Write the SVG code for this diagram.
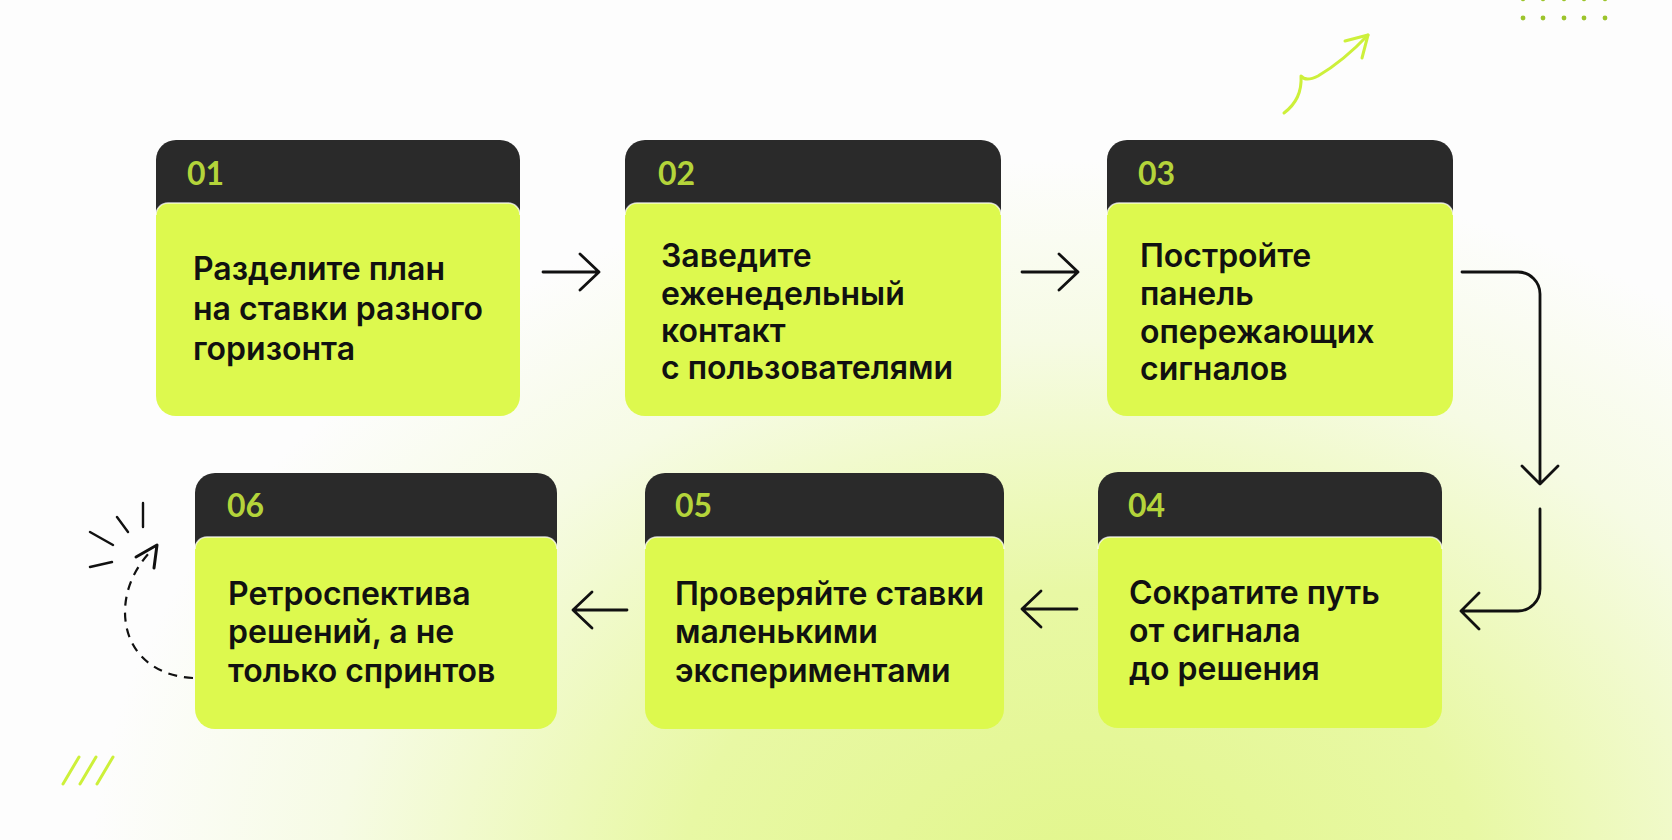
<svg xmlns="http://www.w3.org/2000/svg" width="1672" height="840" viewBox="0 0 1672 840">
<style>
.hdr{fill:#2a2a2a}
.body{fill:#ddf94e}
.hl{fill:none;stroke:#ffffff;stroke-opacity:0.75;stroke-width:1.6}
.num{font-family:"Lato","Inter",sans-serif;font-weight:700;font-size:32px;fill:#b4d43a}
.txt{font-family:"Inter","Liberation Sans",sans-serif;font-weight:600;font-size:32px;fill:#111111}
.conn{fill:none;stroke:#111111;stroke-width:2.8;stroke-linecap:round;stroke-linejoin:round}
.lime{fill:none;stroke:#cdf03a;stroke-width:3;stroke-linecap:round;stroke-linejoin:round}
.dk{fill:none;stroke:#111111;stroke-width:2.4;stroke-linecap:round}
</style>
<defs>
<radialGradient id="bg" gradientUnits="userSpaceOnUse" cx="1080" cy="880" r="900" gradientTransform="translate(1080 880) scale(1.1 0.8) translate(-1080 -880)">
<stop offset="0" stop-color="#e2f68c"/>
<stop offset="0.4" stop-color="#e8f8a4"/>
<stop offset="0.75" stop-color="#f6fbe4"/>
<stop offset="1" stop-color="#fdfdfd"/>
</radialGradient>
</defs>
<rect x="0" y="0" width="1672" height="840" fill="#fdfdfd"/>
<rect x="0" y="0" width="1672" height="840" fill="url(#bg)"/>

<g id="decor">
<g fill="#9cc42c">
<circle cx="1523" cy="-1" r="2.2"/><circle cx="1543" cy="-1" r="2.2"/><circle cx="1564" cy="-1" r="2.2"/><circle cx="1584" cy="-1" r="2.2"/><circle cx="1605" cy="-1" r="2.2"/>
<circle cx="1523" cy="18" r="2.4"/><circle cx="1543" cy="18" r="2.4"/><circle cx="1564" cy="18" r="2.4"/><circle cx="1584" cy="18" r="2.4"/><circle cx="1605" cy="18" r="2.4"/>
</g>
<path class="lime" d="M1284,113 C1296,104 1302,92 1301,76 C1304,80 1310,80 1318,76 C1335,66 1352,52 1368,35"/>
<path class="lime" d="M1345,41 L1368,35 L1362,58"/>
<path class="lime" d="M63,784 L79,757 M80,784 L96,757 M97,784 L113,757"/>
<path class="dk" d="M143,503 V527 M117,517 L128,532 M90,532 L113,545 M90,567 L112,562"/>
</g>

<g id="connectors">
<path class="conn" d="M543,272 H599 M580,254 L599,272 L580,290"/>
<path class="conn" d="M1022,272 H1078 M1059,254 L1078,272 L1059,290"/>
<path class="conn" d="M1462,272 H1518 A22,22 0 0 1 1540,294 V483 M1522,466 L1540,484 L1558,466"/>
<path class="conn" d="M1540,509 V589 A22,22 0 0 1 1518,611 H1461 M1479,593 L1461,611 L1479,629"/>
<path class="conn" d="M1077,609 H1022 M1041,591 L1022,609 L1041,627"/>
<path class="conn" d="M627,610 H573 M592,592 L573,610 L592,628"/>
<path fill="none" stroke="#111111" stroke-width="2.2" stroke-dasharray="9 7" d="M193,678 C152,676 125,650 125,612 C125,588 136,566 152,550"/>
<path fill="none" stroke="#111111" stroke-width="3" stroke-linecap="round" stroke-linejoin="round" d="M136,557 L157,545 L154,568"/>
</g>

<g id="node1">
<rect class="hdr" x="156" y="140" width="364" height="90" rx="20"/>
<path class="body" d="M156,215 A12,12 0 0 1 168,203 H508 A12,12 0 0 1 520,215 V396 A20,20 0 0 1 500,416 H176 A20,20 0 0 1 156,396 Z"/>
<path class="hl" d="M156,215 A12,12 0 0 1 168,203 H508 A12,12 0 0 1 520,215"/>
<text class="num" x="187" y="185">01</text>
<text class="txt"><tspan x="193" y="280">Разделите план</tspan><tspan x="193" y="320">на ставки разного</tspan><tspan x="193" y="360">горизонта</tspan></text>
</g>

<g id="node2">
<rect class="hdr" x="625" y="140" width="376" height="90" rx="20"/>
<path class="body" d="M625,215 A12,12 0 0 1 637,203 H989 A12,12 0 0 1 1001,215 V396 A20,20 0 0 1 981,416 H645 A20,20 0 0 1 625,396 Z"/>
<path class="hl" d="M625,215 A12,12 0 0 1 637,203 H989 A12,12 0 0 1 1001,215"/>
<text class="num" x="658" y="185">02</text>
<text class="txt"><tspan x="661" y="267">Заведите</tspan><tspan x="661" y="305">еженедельный</tspan><tspan x="661" y="342">контакт</tspan><tspan x="661" y="379">с пользователями</tspan></text>
</g>

<g id="node3">
<rect class="hdr" x="1107" y="140" width="346" height="90" rx="20"/>
<path class="body" d="M1107,215 A12,12 0 0 1 1119,203 H1441 A12,12 0 0 1 1453,215 V396 A20,20 0 0 1 1433,416 H1127 A20,20 0 0 1 1107,396 Z"/>
<path class="hl" d="M1107,215 A12,12 0 0 1 1119,203 H1441 A12,12 0 0 1 1453,215"/>
<text class="num" x="1138" y="185">03</text>
<text class="txt"><tspan x="1140" y="267">Постройте</tspan><tspan x="1140" y="305">панель</tspan><tspan x="1140" y="343">опережающих</tspan><tspan x="1140" y="380">сигналов</tspan></text>
</g>

<g id="node4">
<rect class="hdr" x="1098" y="472" width="344" height="90" rx="20"/>
<path class="body" d="M1098,549 A12,12 0 0 1 1110,537 H1430 A12,12 0 0 1 1442,549 V708 A20,20 0 0 1 1422,728 H1118 A20,20 0 0 1 1098,708 Z"/>
<path class="hl" d="M1098,549 A12,12 0 0 1 1110,537 H1430 A12,12 0 0 1 1442,549"/>
<text class="num" x="1128" y="517">04</text>
<text class="txt"><tspan x="1129" y="604">Сократите путь</tspan><tspan x="1129" y="642">от сигнала</tspan><tspan x="1129" y="680">до решения</tspan></text>
</g>

<g id="node5">
<rect class="hdr" x="645" y="473" width="359" height="90" rx="20"/>
<path class="body" d="M645,549 A12,12 0 0 1 657,537 H992 A12,12 0 0 1 1004,549 V709 A20,20 0 0 1 984,729 H665 A20,20 0 0 1 645,709 Z"/>
<path class="hl" d="M645,549 A12,12 0 0 1 657,537 H992 A12,12 0 0 1 1004,549"/>
<text class="num" x="675" y="517">05</text>
<text class="txt"><tspan x="675" y="605">Проверяйте ставки</tspan><tspan x="675" y="643">маленькими</tspan><tspan x="675" y="682">экспериментами</tspan></text>
</g>

<g id="node6">
<rect class="hdr" x="195" y="473" width="362" height="90" rx="20"/>
<path class="body" d="M195,549 A12,12 0 0 1 207,537 H545 A12,12 0 0 1 557,549 V709 A20,20 0 0 1 537,729 H215 A20,20 0 0 1 195,709 Z"/>
<path class="hl" d="M195,549 A12,12 0 0 1 207,537 H545 A12,12 0 0 1 557,549"/>
<text class="num" x="227" y="517">06</text>
<text class="txt"><tspan x="228" y="605">Ретроспектива</tspan><tspan x="228" y="643">решений, а не</tspan><tspan x="228" y="682">только спринтов</tspan></text>
</g>
</svg>
